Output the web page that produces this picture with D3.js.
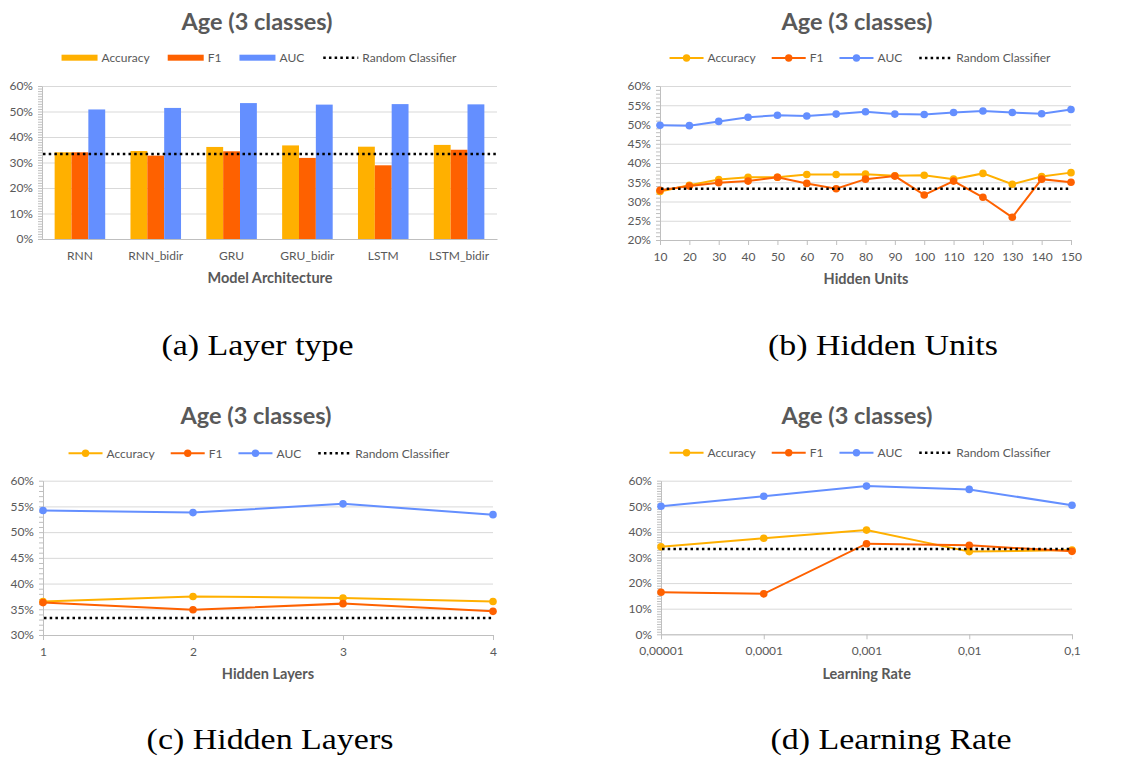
<!DOCTYPE html>
<html>
<head>
<meta charset="utf-8">
<script src="https://cdn.jsdelivr.net/npm/d3@7"></script>
<style>
  body { margin: 0; background: #fff; }
  svg { display: block; }
</style>
</head>
<body>
<svg id="fig" width="1126" height="758"></svg>
<script>
// ---- data (percent) ----
const seriesNames = ['Accuracy', 'F1', 'AUC'];
const randomClassifier = 33.3;

const layerTypes = ['RNN', 'RNN_bidir', 'GRU', 'GRU_bidir', 'LSTM', 'LSTM_bidir'];
const layerAccuracy = [34.0, 34.5, 36.1, 36.7, 36.2, 36.9];
const layerF1 = [34.0, 32.7, 34.4, 31.8, 28.9, 35.0];
const layerAUC = [50.8, 51.4, 53.3, 52.7, 52.9, 52.8];

const hiddenUnits = [10, 20, 30, 40, 50, 60, 70, 80, 90, 100, 110, 120, 130, 140, 150];
const unitsAccuracy = [32.6, 34.2, 35.7, 36.3, 36.3, 37.0, 37.0, 37.1, 36.7, 36.8, 35.8, 37.3, 34.5, 36.5, 37.5];
const unitsF1 = [32.9, 34.0, 34.9, 35.3, 36.3, 34.7, 33.3, 35.8, 36.6, 31.7, 35.3, 31.1, 25.9, 35.8, 35.0];
const unitsAUC = [49.8, 49.7, 50.8, 51.9, 52.4, 52.2, 52.7, 53.3, 52.7, 52.6, 53.1, 53.5, 53.1, 52.8, 53.9];

const hiddenLayers = [1, 2, 3, 4];
const layersAccuracy = [36.5, 37.5, 37.2, 36.5];
const layersF1 = [36.3, 34.9, 36.1, 34.6];
const layersAUC = [54.2, 53.8, 55.5, 53.4];

const learningRates = ['0,00001', '0,0001', '0,001', '0,01', '0,1'];
const rateAccuracy = [34.2, 37.5, 40.7, 32.3, 32.9];
const rateF1 = [16.4, 15.8, 35.4, 34.8, 32.4];
const rateAUC = [50.0, 53.9, 57.9, 56.6, 50.4];

const ticksA = [0, 10, 20, 30, 40, 50, 60];
const ticksB = [20, 25, 30, 35, 40, 45, 50, 55, 60];
const ticksC = [30, 35, 40, 45, 50, 55, 60];
const ticksD = [0, 10, 20, 30, 40, 50, 60];

const seriesColors = ['#FFB000', '#FE6100', '#648FFF'];
const textGray = '#595959';
const gridGray = '#d9d9d9';
const axisGray = '#bfbfbf';
const chartFont = 'Lato, "Open Sans", sans-serif';
const smallSize = 12;

const svg = d3.select('#fig');

function drawTitle(cx, y) {
  svg.append('text')
    .attr('x', cx).attr('y', y)
    .attr('text-anchor', 'middle')
    .attr('font-family', chartFont)
    .attr('font-weight', 700)
    .attr('font-size', 23.5)
    .attr('fill', textGray)
    .text('Age (3 classes)');
}

function drawLegend(cx, cy, kind) {
  const sw = kind === 'bar' ? 36 : 34;
  const space = kind === 'bar' ? 18 : 16;
  const items = seriesNames.map((n, i) => ({ name: n, color: seriesColors[i], type: kind }))
    .concat([{ name: 'Random Classifier', color: '#000', type: 'dot' }]);
  const lg = svg.append('g');
  let x = 0;
  items.forEach(it => {
    const g = lg.append('g').attr('transform', `translate(${x},0)`);
    if (it.type === 'bar') {
      g.append('rect').attr('x', 0).attr('y', -3).attr('width', sw).attr('height', 6).attr('fill', it.color);
    } else if (it.type === 'line') {
      g.append('line').attr('x1', 0).attr('x2', sw).attr('stroke', it.color).attr('stroke-width', 2);
      g.append('circle').attr('cx', sw / 2).attr('r', 3.7).attr('fill', it.color);
    } else {
      g.append('line').attr('x1', 1).attr('x2', sw).attr('stroke', '#000')
        .attr('stroke-width', 2.5).attr('stroke-dasharray', '2.5 3.2');
    }
    const t = g.append('text')
      .attr('x', sw + 4).attr('dy', '0.35em')
      .attr('font-family', chartFont).attr('font-size', smallSize)
      .attr('fill', textGray).text(it.name);
    x += sw + 4 + t.node().getComputedTextLength() + space;
  });
  lg.attr('transform', `translate(${cx - (x - space) / 2},${cy})`);
}

function drawYAxis(p, y, ticks) {
  const w = p.x1 - p.x0;
  const dom = y.domain();
  svg.append('g').attr('transform', `translate(${p.x0},0)`)
    .call(d3.axisLeft(y).tickValues(ticks).tickSize(-w).tickFormat(''))
    .call(g => g.select('.domain').remove())
    .call(g => g.selectAll('line').attr('stroke', gridGray));
  svg.append('g').attr('transform', `translate(${p.x0},0)`)
    .call(d3.axisLeft(y).tickValues(d3.range(dom[0], dom[1] + 0.5, 1)).tickSize(4).tickFormat(''))
    .call(g => g.select('.domain').remove())
    .call(g => g.selectAll('line').attr('stroke', axisGray));
  svg.append('g').attr('transform', `translate(${p.x0},0)`)
    .call(d3.axisLeft(y).tickValues(ticks).tickSize(0).tickPadding(9).tickFormat(d => d + '%'))
    .attr('font-family', chartFont).attr('font-size', smallSize)
    .call(g => g.select('.domain').attr('stroke', axisGray))
    .call(g => g.selectAll('text').attr('fill', textGray));
}

function drawXAxis(p, x, tickLen, pad) {
  svg.append('g').attr('transform', `translate(0,${p.y1})`)
    .call(d3.axisBottom(x).tickSize(tickLen).tickSizeOuter(0).tickPadding(pad))
    .attr('font-family', chartFont).attr('font-size', smallSize)
    .call(g => g.select('.domain').attr('stroke', axisGray))
    .call(g => g.selectAll('line').attr('stroke', axisGray))
    .call(g => g.selectAll('text').attr('fill', textGray));
}

function drawAxisTitle(cx, y, label) {
  svg.append('text')
    .attr('x', cx).attr('y', y)
    .attr('text-anchor', 'middle')
    .attr('font-family', chartFont)
    .attr('font-weight', 700)
    .attr('font-size', 14.5)
    .attr('fill', textGray)
    .text(label);
}

function drawRandom(p, y) {
  svg.append('line')
    .attr('x1', p.x0 + 1).attr('x2', p.x1)
    .attr('y1', y(randomClassifier)).attr('y2', y(randomClassifier))
    .attr('stroke', '#000').attr('stroke-width', 2.5)
    .attr('stroke-dasharray', '2.5 3.2');
}

function drawCaption(cx, y, label) {
  const t = svg.append('text')
    .attr('x', cx).attr('y', y)
    .attr('text-anchor', 'middle')
    .attr('font-family', '"Liberation Serif", "DejaVu Serif", serif')
    .attr('font-size', 29)
    .attr('fill', '#000')
    .text(label);
  const w = t.node().getComputedTextLength();
  t.attr('textLength', w * 1.17).attr('lengthAdjust', 'spacingAndGlyphs');
}

function drawLinePanel(cfg) {
  const p = cfg.plot;
  const x = d3.scalePoint().domain(cfg.cats).range([p.x0, p.x1]);
  const y = d3.scaleLinear().domain([cfg.ticks[0], cfg.ticks[cfg.ticks.length - 1]]).range([p.y1, p.y0]);

  drawTitle(cfg.titleX, cfg.titleY);
  drawLegend(cfg.legendX, cfg.legendY, 'line');
  drawYAxis(p, y, cfg.ticks);
  drawXAxis(p, x, 5, 7);
  drawAxisTitle(cfg.labelX, cfg.labelY, cfg.label);

  const line = d3.line().x(d => x(d.c)).y(d => y(d.v));
  cfg.series.forEach((vals, i) => {
    const pts = cfg.cats.map((c, j) => ({ c, v: vals[j] }));
    const g = svg.append('g');
    g.append('path').datum(pts)
      .attr('d', line)
      .attr('fill', 'none')
      .attr('stroke', seriesColors[i])
      .attr('stroke-width', 2);
    g.selectAll('circle').data(pts).join('circle')
      .attr('cx', d => x(d.c)).attr('cy', d => y(d.v))
      .attr('r', 3.8).attr('fill', seriesColors[i]);
  });
  drawRandom(p, y);
}

// ---- (a) Layer type: grouped bars ----
{
  const p = { x0: 42, x1: 497, y0: 86, y1: 239 };
  const x0 = d3.scaleBand().domain(layerTypes).range([p.x0, p.x1]).paddingInner(1 / 3).paddingOuter(1 / 6);
  const x1 = d3.scaleBand().domain(seriesNames).range([0, x0.bandwidth()]);
  const y = d3.scaleLinear().domain([0, 60]).range([p.y1, p.y0]);

  drawTitle(257, 29.5);
  drawLegend(259, 57.7, 'bar');
  drawYAxis(p, y, ticksA);

  const series = [layerAccuracy, layerF1, layerAUC];
  const rows = layerTypes.map((c, i) => ({ c, vals: seriesNames.map((n, k) => ({ n, v: series[k][i] })) }));
  svg.append('g').selectAll('g').data(rows).join('g')
    .attr('transform', d => `translate(${x0(d.c)},0)`)
    .selectAll('rect').data(d => d.vals).join('rect')
    .attr('x', d => x1(d.n))
    .attr('width', x1.bandwidth())
    .attr('y', d => y(d.v))
    .attr('height', d => y(0) - y(d.v))
    .attr('fill', (d, k) => seriesColors[k]);

  drawXAxis(p, x0, 0, 12);
  drawAxisTitle(270, 282.6, 'Model Architecture');
  drawRandom(p, y);
}

// ---- (b) Hidden Units ----
drawLinePanel({
  cats: hiddenUnits, series: [unitsAccuracy, unitsF1, unitsAUC], ticks: ticksB,
  plot: { x0: 660, x1: 1071, y0: 86, y1: 240 },
  titleX: 857, titleY: 29.5, legendX: 860, legendY: 58,
  labelX: 866, labelY: 283.6, label: 'Hidden Units'
});

// ---- (c) Hidden Layers ----
drawLinePanel({
  cats: hiddenLayers, series: [layersAccuracy, layersF1, layersAUC], ticks: ticksC,
  plot: { x0: 43, x1: 493, y0: 480.7, y1: 635 },
  titleX: 256, titleY: 424, legendX: 259, legendY: 453.3,
  labelX: 268, labelY: 678.6, label: 'Hidden Layers'
});

// ---- (d) Learning Rate ----
drawLinePanel({
  cats: learningRates, series: [rateAccuracy, rateF1, rateAUC], ticks: ticksD,
  plot: { x0: 661, x1: 1072, y0: 480.7, y1: 634.3 },
  titleX: 857, titleY: 424, legendX: 860, legendY: 452.7,
  labelX: 866.7, labelY: 678.6, label: 'Learning Rate'
});

drawCaption(257.5, 355, '(a) Layer type');
drawCaption(883, 355, '(b) Hidden Units');
drawCaption(270, 749, '(c) Hidden Layers');
drawCaption(891, 749, '(d) Learning Rate');
</script>
</body>
</html>
